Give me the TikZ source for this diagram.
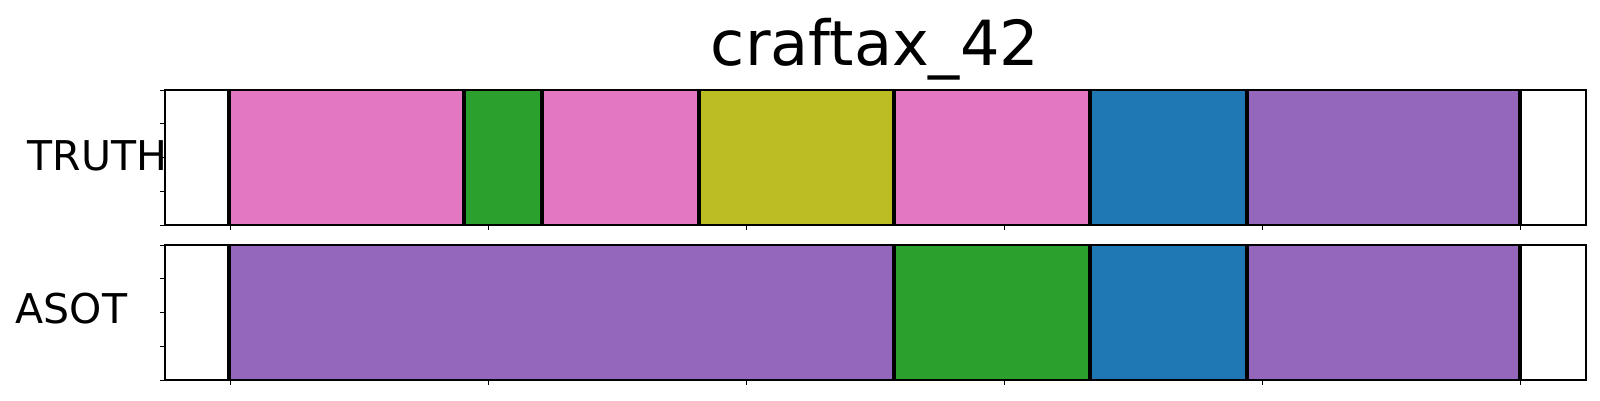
\documentclass[tikz,border=0pt]{standalone}
\usepackage{fontspec}
\setmainfont{DejaVu Sans}
\definecolor{tabpink}{HTML}{E377C2}
\definecolor{tabgreen}{HTML}{2CA02C}
\definecolor{tabolive}{HTML}{BCBD22}
\definecolor{tabblue}{HTML}{1F77B4}
\definecolor{tabpurple}{HTML}{9467BD}

\begin{document}
\begin{tikzpicture}[x=0.1mm, y=-0.1mm,
  frame/.style={line width=0.16mm},
  tick/.style={line width=0.1mm},
  bound/.style={line width=0.4mm},
  lbl/.style={inner sep=0pt, font=\fontsize{11.67pt}{14pt}\selectfont}]
\useasboundingbox (0,0) rectangle (1600,400);
% Segments TRUTH
\fill[tabpink]   (229,90) rectangle (464,225);
\fill[tabgreen]  (464,90) rectangle (542,225);
\fill[tabpink]   (542,90) rectangle (699,225);
\fill[tabolive]  (699,90) rectangle (894,225);
\fill[tabpink]   (894,90) rectangle (1090,225);
\fill[tabblue]   (1090,90) rectangle (1247,225);
\fill[tabpurple] (1247,90) rectangle (1520,225);
% Segments ASOT
\fill[tabpurple] (229,245) rectangle (894,380);
\fill[tabgreen]  (894,245) rectangle (1090,380);
\fill[tabblue]   (1090,245) rectangle (1247,380);
\fill[tabpurple] (1247,245) rectangle (1520,380);
% Lines
\foreach \x in {229,464,542,699,894,1090,1247,1520}
  \draw[bound] (\x,90) -- (\x,225);
\foreach \x in {229,894,1090,1247,1520}
  \draw[bound] (\x,245) -- (\x,380);
% Frames
\draw[frame] (165,90) rectangle (1586,225);
\draw[frame] (165,245) rectangle (1586,380);
% Ticks
\foreach \x in {230,488,746,1004,1262,1520} {
  \draw[tick] (\x,225) -- (\x,230);
  \draw[tick] (\x,380) -- (\x,385);
}
\foreach \y in {0,33.75,67.5,101.25,135} {
  \draw[tick] (165,90+\y) -- (160,90+\y);
  \draw[tick] (165,245+\y) -- (160,245+\y);
}
% Nodes
\draw (875,65) node[anchor=base, inner sep=0pt, font=\fontsize{17.7pt}{22pt}\selectfont] (title) {craftax\_42};
\draw (27,170) node[lbl, anchor=base west] (truth) {TRUTH};
\draw (15,323) node[lbl, anchor=base west] (asot) {ASOT};
\end{tikzpicture}
\end{document}
